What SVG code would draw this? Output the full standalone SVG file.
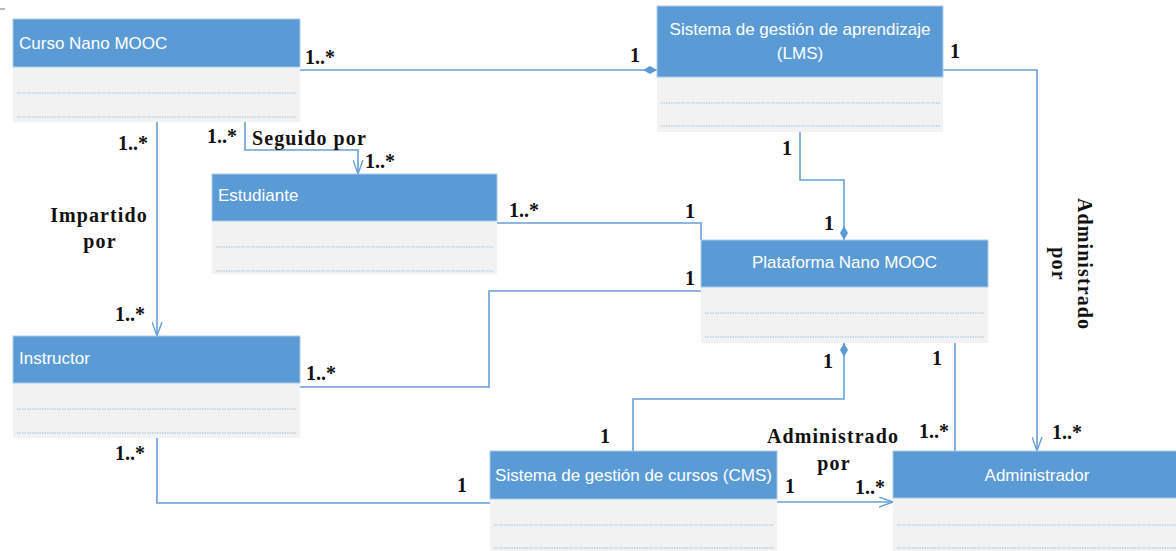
<svg xmlns="http://www.w3.org/2000/svg" width="1176" height="551" viewBox="0 0 1176 551">
<style>
.hd{fill:#5B9BD5;stroke:#A9CBEA;stroke-width:1}
.bd{fill:#F2F2F2}
.dt{stroke:#9DC3E6;stroke-width:1;stroke-dasharray:1.5 1}
.t{font-family:"Liberation Sans",Arial,sans-serif;font-size:17px;fill:#FFFFFF}
.c{text-anchor:middle}
.ln{fill:none;stroke:#6A9FD6;stroke-width:1.6}
.m{font-family:"Liberation Serif","Times New Roman",serif;font-weight:bold;font-size:20px;fill:#111111}
.r{font-family:"Liberation Serif","Times New Roman",serif;font-weight:bold;font-size:20px;fill:#111111;letter-spacing:1.1px}
</style>
<defs>
<marker id="arr" viewBox="0 0 14 11" markerWidth="14" markerHeight="11" refX="14" refY="5.5" orient="auto" markerUnits="userSpaceOnUse">
<path d="M0,0.5 L14,5.5 L0,10.5" fill="none" stroke="#6A9FD6" stroke-width="1.4"/>
</marker>
<marker id="dia" viewBox="0 0 14 8" markerWidth="14" markerHeight="8" refX="14" refY="4" orient="auto" markerUnits="userSpaceOnUse">
<path d="M0,4 L7,0 L14,4 L7,8 Z" fill="#5B9BD5" stroke="none"/>
</marker>
</defs>
<rect width="1176" height="551" fill="#FFFFFF"/>
<line x1="0" y1="9" x2="5" y2="9" stroke="#777777" stroke-width="1"/>

<g id="connectors">
<path class="ln" d="M300,70 H657" marker-end="url(#dia)"/>
<path class="ln" d="M943,70 H1037 V451" marker-end="url(#arr)"/>
<path class="ln" d="M157,122 V336" marker-end="url(#arr)"/>
<path class="ln" d="M245,122 V150 H358 V174" marker-end="url(#arr)"/>
<path class="ln" d="M497,223 H701 V240"/>
<path class="ln" d="M300,387 H489 V291 H701"/>
<path class="ln" d="M157,438 V503 H490"/>
<path class="ln" d="M633,451 V399 H844 V343" marker-end="url(#dia)"/>
<path class="ln" d="M800,132 V180 H844 V240" marker-end="url(#dia)"/>
<path class="ln" d="M955,343 V451"/>
<path class="ln" d="M777,502 H893" marker-end="url(#arr)"/>
</g>

<g id="labels">
<text class="m" x="305" y="64">1..*</text>
<text class="m" x="630" y="62">1</text>
<text class="m" x="950" y="58">1</text>
<text class="m" x="1052" y="439">1..*</text>
<text class="m" x="118" y="150">1..*</text>
<text class="r c" x="99" y="222">Impartido</text>
<text class="r c" x="100" y="248">por</text>
<text class="m" x="115" y="321">1..*</text>
<text class="m" x="207" y="143">1..*</text>
<text class="r" x="252" y="145">Seguido por</text>
<text class="m" x="365" y="168">1..*</text>
<text class="m" x="509" y="217">1..*</text>
<text class="m" x="685" y="218">1</text>
<text class="m" x="306" y="380">1..*</text>
<text class="m" x="685" y="285">1</text>
<text class="m" x="115" y="460">1..*</text>
<text class="m" x="457" y="492">1</text>
<text class="m" x="600" y="443">1</text>
<text class="m" x="823" y="368">1</text>
<text class="m" x="782" y="155">1</text>
<text class="m" x="824" y="230">1</text>
<text class="m" x="932" y="365">1</text>
<text class="m" x="919" y="438">1..*</text>
<text class="m" x="785" y="493">1</text>
<text class="m" x="855" y="494">1..*</text>
<text class="r c" x="833" y="443">Administrado</text>
<text class="r c" x="834" y="470">por</text>
<g transform="translate(1078,264) rotate(90)">
<text class="r c" x="0" y="0">Administrado</text>
<text class="r c" x="0" y="26">por</text>
</g>
</g>

<g id="curso">
<rect class="bd" x="13" y="67" width="287" height="55"/>
<rect class="hd" x="13" y="19" width="287" height="48"/>
<line class="dt" x1="17" y1="93" x2="297" y2="93"/>
<line class="dt" x1="17" y1="117" x2="297" y2="117"/>
<text class="t" x="19" y="49">Curso Nano MOOC</text>
</g>

<g id="lms">
<rect class="bd" x="657" y="77" width="286" height="55"/>
<rect class="hd" x="657" y="6" width="286" height="71"/>
<line class="dt" x1="661" y1="103" x2="940" y2="103"/>
<line class="dt" x1="661" y1="126" x2="940" y2="126"/>
<text class="t c" x="800" y="35">Sistema de gestión de aprendizaje</text>
<text class="t c" x="800" y="59">(LMS)</text>
</g>

<g id="estudiante">
<rect class="bd" x="212" y="221" width="285" height="53"/>
<rect class="hd" x="212" y="174" width="285" height="47"/>
<line class="dt" x1="216" y1="247" x2="494" y2="247"/>
<line class="dt" x1="216" y1="271" x2="494" y2="271"/>
<text class="t" x="218" y="201">Estudiante</text>
</g>

<g id="plataforma">
<rect class="bd" x="701" y="287" width="287" height="56"/>
<rect class="hd" x="701" y="240" width="287" height="47"/>
<line class="dt" x1="705" y1="313" x2="985" y2="313"/>
<line class="dt" x1="705" y1="337" x2="985" y2="337"/>
<text class="t c" x="844.5" y="268">Plataforma Nano MOOC</text>
</g>

<g id="instructor">
<rect class="bd" x="13" y="383" width="287" height="55"/>
<rect class="hd" x="13" y="336" width="287" height="47"/>
<line class="dt" x1="17" y1="409" x2="297" y2="409"/>
<line class="dt" x1="17" y1="433" x2="297" y2="433"/>
<text class="t" x="19" y="364">Instructor</text>
</g>

<g id="cms">
<rect class="bd" x="490" y="499" width="287" height="60"/>
<rect class="hd" x="490" y="451" width="287" height="48"/>
<line class="dt" x1="494" y1="525" x2="774" y2="525"/>
<line class="dt" x1="494" y1="548" x2="774" y2="548"/>
<text class="t c" x="633.5" y="481">Sistema de gestión de cursos (CMS)</text>
</g>

<g id="administrador">
<rect class="bd" x="893" y="498" width="288" height="60"/>
<rect class="hd" x="893" y="451" width="288" height="47"/>
<line class="dt" x1="897" y1="525" x2="1178" y2="525"/>
<line class="dt" x1="897" y1="548" x2="1178" y2="548"/>
<text class="t c" x="1037" y="481">Administrador</text>
</g>
</svg>
